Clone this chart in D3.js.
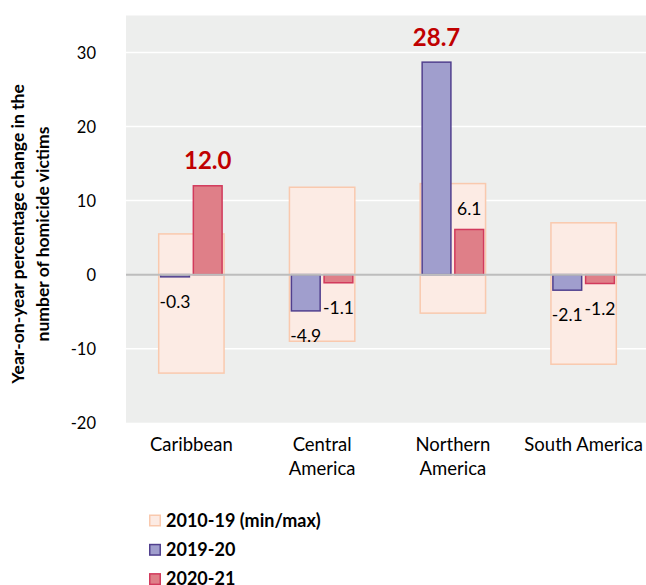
<!DOCTYPE html>
<html>
<head>
<meta charset="utf-8">
<script src="https://cdn.jsdelivr.net/npm/d3@7"></script>
<style>
  body { margin: 0; background: #fff; }
  svg text { font-family: Lato, "Open Sans", sans-serif; }
</style>
</head>
<body>
<svg id="chart" width="646" height="585"></svg>
<script>
var regions = ["Caribbean", "Central America", "Northern America", "South America"];
var regionLines = [["Caribbean"], ["Central", "America"], ["Northern", "America"], ["South America"]];
var rangeMin = [-13.3, -9.0, -5.2, -12.1];
var rangeMax = [5.5, 11.8, 12.3, 7.0];
var change1920 = [-0.3, -4.9, 28.7, -2.1];
var change2021 = [12.0, -1.1, 6.1, -1.2];
var highlight1920 = [false, false, true, false];
var highlight2021 = [true, false, false, false];
var yTicks = [-20, -10, 0, 10, 20, 30];
var seriesNames = ["2019-20", "2020-21"];
var legendNames = ["2010-19 (min/max)", "2019-20", "2020-21"];

var svg = d3.select("#chart");
var plotLeft = 126, plotRight = 649, plotTop = 15.5, plotBottom = 422.7;

var x = d3.scaleBand().domain(regions).range([plotLeft, plotRight]);
var y = d3.scaleLinear().domain([-20, 35]).range([plotBottom, plotTop]);
var boxW = x.bandwidth() * 0.5;
var xs = d3.scaleBand().domain(seriesNames).range([0, boxW]).paddingInner(0.12).paddingOuter(0.06);

var colors = {
    box: "#fcebe4", boxLine: "#f9c9ae",
    s1: "#a09ecd", s1Line: "#51408e",
    s2: "#df7f88", s2Line: "#d23a5c"
};

// plot background
svg.append("rect")
    .attr("x", plotLeft).attr("y", plotTop)
    .attr("width", plotRight - plotLeft).attr("height", plotBottom - plotTop)
    .attr("fill", "#edeeed");

// gridlines
svg.append("g").selectAll("line")
    .data(yTicks.filter(function (t) { return t !== 0 && t !== -20; }))
    .join("line")
    .attr("x1", plotLeft).attr("x2", plotRight)
    .attr("y1", function (d) { return y(d); })
    .attr("y2", function (d) { return y(d); })
    .attr("stroke", "#ffffff").attr("stroke-width", 1.5);

// y axis labels (plain hyphen minus like the original)
var yAxis = svg.append("g")
    .attr("transform", "translate(" + (plotLeft - 30) + ",0)")
    .call(d3.axisLeft(y).tickValues(yTicks).tickSize(0).tickPadding(0)
        .tickFormat(function (d) { return String(d); }));
yAxis.select(".domain").remove();
yAxis.selectAll("text")
    .attr("font-size", 16.5).attr("fill", "#000").attr("dy", "0.34em")
    .style("font-family", "Lato, sans-serif");

// y title
var ytitle = svg.append("text")
    .attr("transform", "translate(0,234) rotate(-90)")
    .attr("text-anchor", "middle")
    .attr("font-size", 17.5).attr("font-weight", "bold");
ytitle.append("tspan").attr("x", 0).attr("y", 24).text("Year-on-year percentage change in the");
ytitle.append("tspan").attr("x", 0).attr("y", 49).text("number of homicide victims");

var center = function (i) { return x(regions[i]) + x.bandwidth() / 2; };
var idx = d3.range(regions.length);

// min/max boxes
svg.append("g").selectAll("rect")
    .data(idx).join("rect")
    .attr("x", function (i) { return center(i) - boxW / 2; })
    .attr("y", function (i) { return y(rangeMax[i]); })
    .attr("width", boxW)
    .attr("height", function (i) { return y(rangeMin[i]) - y(rangeMax[i]); })
    .attr("fill", colors.box).attr("stroke", colors.boxLine).attr("stroke-width", 1.5);

// bars
function drawBars(vals, name, fill, line) {
    svg.append("g").selectAll("rect")
        .data(idx).join("rect")
        .attr("x", function (i) { return center(i) - boxW / 2 + xs(name); })
        .attr("y", function (i) { return y(Math.max(0, vals[i])); })
        .attr("width", xs.bandwidth())
        .attr("height", function (i) { return Math.abs(y(vals[i]) - y(0)); })
        .attr("fill", fill).attr("stroke", line).attr("stroke-width", 1.5);
}
drawBars(change1920, "2019-20", colors.s1, colors.s1Line);
drawBars(change2021, "2020-21", colors.s2, colors.s2Line);

// zero line
svg.append("line")
    .attr("x1", plotLeft).attr("x2", plotRight)
    .attr("y1", y(0)).attr("y2", y(0))
    .attr("stroke", "#bdbdbd").attr("stroke-width", 2);

// value labels
function drawLabels(vals, hl, name) {
    svg.append("g").selectAll("text")
        .data(idx).join("text")
        .attr("x", function (i) { return center(i) - boxW / 2 + xs(name) + xs.bandwidth() / 2; })
        .attr("y", function (i) {
            if (vals[i] < 0) return y(vals[i]) + 25;
            return y(vals[i]) - (hl[i] ? 25 : 21);
        })
        .attr("dy", "0.35em")
        .attr("text-anchor", "middle")
        .attr("font-size", function (i) { return hl[i] ? 24 : 17.5; })
        .attr("font-weight", function (i) { return hl[i] ? "bold" : "normal"; })
        .attr("fill", function (i) { return hl[i] ? "#c00000" : "#000"; })
        .text(function (i) { return vals[i].toFixed(1); });
}
drawLabels(change1920, highlight1920, "2019-20");
drawLabels(change2021, highlight2021, "2020-21");

// category labels
var cat = svg.append("g").selectAll("text")
    .data(idx).join("text")
    .attr("text-anchor", "middle")
    .attr("font-size", 18.5);
cat.selectAll("tspan")
    .data(function (i) { return regionLines[i].map(function (t, k) { return {t: t, k: k, i: i}; }); })
    .join("tspan")
    .attr("x", function (d) { return center(d.i); })
    .attr("y", function (d) { return 451 + d.k * 24; })
    .text(function (d) { return d.t; });

// legend
var legFill = [colors.box, colors.s1, colors.s2];
var legLine = [colors.boxLine, colors.s1Line, colors.s2Line];
var leg = svg.append("g").selectAll("g")
    .data(legendNames).join("g")
    .attr("transform", function (d, i) { return "translate(149," + (520.5 + i * 29.3) + ")"; });
leg.append("rect")
    .attr("x", 0.75).attr("y", -5.25).attr("width", 10.5).attr("height", 10.5)
    .attr("fill", function (d, i) { return legFill[i]; })
    .attr("stroke", function (d, i) { return legLine[i]; })
    .attr("stroke-width", 1.5);
leg.append("text")
    .attr("x", 17).attr("dy", "0.35em")
    .attr("font-size", 18).attr("font-weight", "bold")
    .text(function (d) { return d; });
</script>
</body>
</html>
